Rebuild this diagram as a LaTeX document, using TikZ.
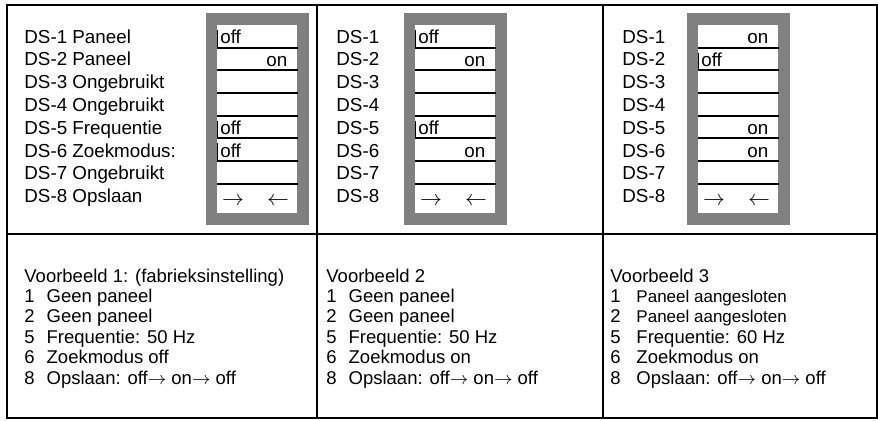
\documentclass[tikz,border=0pt]{standalone}
\usepackage{fontspec}
\setmainfont{Liberation Sans}
\usepackage{tikz}
\usetikzlibrary{calc, positioning}

\definecolor{switchgray}{HTML}{808080}

\begin{document}
\begin{tikzpicture}[
        x=0.5pt, y=-0.5pt,
        tableline/.style={line width=1pt},
        rowline/.style={line width=1pt},
        offbar/.style={line width=0.5pt},
        switchframe/.style={fill=switchgray, minimum width=51.5pt, minimum height=106pt, inner sep=0pt, anchor=north west},
        switchbox/.style={fill=white, minimum width=40pt, minimum height=94pt, inner sep=0pt, anchor=north west},
        dslist/.style={anchor=base west, inner sep=0pt, font=\fontsize{9.4}{11.4}\selectfont},
        examplelist/.style={anchor=base west, inner sep=0pt, font=\fontsize{9.25}{10.2}\selectfont},
        offstate/.style={anchor=base west, inner sep=0pt, font=\fontsize{9.4}{11.4}\selectfont},
        onstate/.style={anchor=base east, inner sep=0pt, font=\fontsize{9.4}{11.4}\selectfont},
        savearrow/.style={inner sep=0pt, font=\fontsize{11}{13}\selectfont}
    ]
    \useasboundingbox (0, 0) rectangle (878, 420);

    % Table
    \node [draw, tableline, rectangle, minimum width=435pt, minimum height=206.5pt, inner sep=0pt, anchor=north west] (table) at (6, 4) {};
    \draw[tableline] ($(table.north west) + (311, 0)$) -- ($(table.south west) + (311, 0)$);
    \draw[tableline] ($(table.north west) + (597, 0)$) -- ($(table.south west) + (597, 0)$);
    \draw[tableline] ($(table.north west) + (0, 230)$) -- ($(table.north east) + (0, 230)$);

    % Example 1: switches
    \node [switchframe] (frame1) at (206, 13) {};
    \node [switchbox] (sw1) at ($(frame1.north west) + (11, 12)$) {};
    \draw[rowline] ($(sw1.north west) + (0, 22.67)$)  -- ($(sw1.north east) + (0, 22.67)$);
    \draw[rowline] ($(sw1.north west) + (0, 45.33)$)  -- ($(sw1.north east) + (0, 45.33)$);
    \draw[rowline] ($(sw1.north west) + (0, 68)$)     -- ($(sw1.north east) + (0, 68)$);
    \draw[rowline] ($(sw1.north west) + (0, 90.67)$)  -- ($(sw1.north east) + (0, 90.67)$);
    \draw[rowline] ($(sw1.north west) + (0, 113.33)$) -- ($(sw1.north east) + (0, 113.33)$);
    \draw[rowline] ($(sw1.north west) + (0, 136)$)    -- ($(sw1.north east) + (0, 136)$);
    \draw[rowline] ($(sw1.north west) + (0, 158.67)$) -- ($(sw1.north east) + (0, 158.67)$);

    \node [offstate] (p1s1) at ($(sw1.north west) + (3, 18.67)$) {off};
    \draw[offbar] ($(sw1.north west) + (0.5, 5)$) -- ($(sw1.north west) + (0.5, 22.67)$);
    \node [onstate] (p1s2) at ($(sw1.north east) + (-10, 41.33)$) {on};
    \node [offstate] (p1s5) at ($(sw1.north west) + (3, 109.33)$) {off};
    \draw[offbar] ($(sw1.north west) + (0.5, 95.67)$) -- ($(sw1.north west) + (0.5, 113.33)$);
    \node [offstate] (p1s6) at ($(sw1.north west) + (3, 132)$) {off};
    \draw[offbar] ($(sw1.north west) + (0.5, 118.33)$) -- ($(sw1.north west) + (0.5, 136)$);
    \node [savearrow] (p1save1) at ($(sw1.north west) + (16, 176)$) {$\rightarrow$};
    \node [savearrow] (p1save2) at ($(sw1.north west) + (61, 176)$) {$\leftarrow$};

    \node [dslist] (labels1) at (24, 43) {\begin{tabular}[t]{@{}l@{}}
        DS-1 Paneel\\ DS-2 Paneel\\ DS-3 Ongebruikt\\ DS-4 Ongebruikt\\
        DS-5 Frequentie\\ DS-6 Zoekmodus:\\ DS-7 Ongebruikt\\ DS-8 Opslaan
    \end{tabular}};

    % Example 2: switches
    \node [switchframe] (frame2) at (404, 13) {};
    \node [switchbox] (sw2) at ($(frame2.north west) + (11, 12)$) {};
    \draw[rowline] ($(sw2.north west) + (0, 22.67)$)  -- ($(sw2.north east) + (0, 22.67)$);
    \draw[rowline] ($(sw2.north west) + (0, 45.33)$)  -- ($(sw2.north east) + (0, 45.33)$);
    \draw[rowline] ($(sw2.north west) + (0, 68)$)     -- ($(sw2.north east) + (0, 68)$);
    \draw[rowline] ($(sw2.north west) + (0, 90.67)$)  -- ($(sw2.north east) + (0, 90.67)$);
    \draw[rowline] ($(sw2.north west) + (0, 113.33)$) -- ($(sw2.north east) + (0, 113.33)$);
    \draw[rowline] ($(sw2.north west) + (0, 136)$)    -- ($(sw2.north east) + (0, 136)$);
    \draw[rowline] ($(sw2.north west) + (0, 158.67)$) -- ($(sw2.north east) + (0, 158.67)$);

    \node [offstate] (p2s1) at ($(sw2.north west) + (3, 18.67)$) {off};
    \draw[offbar] ($(sw2.north west) + (0.5, 5)$) -- ($(sw2.north west) + (0.5, 22.67)$);
    \node [onstate] (p2s2) at ($(sw2.north east) + (-10, 41.33)$) {on};
    \node [offstate] (p2s5) at ($(sw2.north west) + (3, 109.33)$) {off};
    \draw[offbar] ($(sw2.north west) + (0.5, 95.67)$) -- ($(sw2.north west) + (0.5, 113.33)$);
    \node [onstate] (p2s6) at ($(sw2.north east) + (-10, 132)$) {on};
    \node [savearrow] (p2save1) at ($(sw2.north west) + (16, 176)$) {$\rightarrow$};
    \node [savearrow] (p2save2) at ($(sw2.north west) + (61, 176)$) {$\leftarrow$};

    \node [dslist] (labels2) at (336, 43) {\begin{tabular}[t]{@{}l@{}}
        DS-1\\ DS-2\\ DS-3\\ DS-4\\ DS-5\\ DS-6\\ DS-7\\ DS-8
    \end{tabular}};

    % Example 3: switches
    \node [switchframe] (frame3) at (687, 13) {};
    \node [switchbox] (sw3) at ($(frame3.north west) + (11, 12)$) {};
    \draw[rowline] ($(sw3.north west) + (0, 22.67)$)  -- ($(sw3.north east) + (0, 22.67)$);
    \draw[rowline] ($(sw3.north west) + (0, 45.33)$)  -- ($(sw3.north east) + (0, 45.33)$);
    \draw[rowline] ($(sw3.north west) + (0, 68)$)     -- ($(sw3.north east) + (0, 68)$);
    \draw[rowline] ($(sw3.north west) + (0, 90.67)$)  -- ($(sw3.north east) + (0, 90.67)$);
    \draw[rowline] ($(sw3.north west) + (0, 113.33)$) -- ($(sw3.north east) + (0, 113.33)$);
    \draw[rowline] ($(sw3.north west) + (0, 136)$)    -- ($(sw3.north east) + (0, 136)$);
    \draw[rowline] ($(sw3.north west) + (0, 158.67)$) -- ($(sw3.north east) + (0, 158.67)$);

    \node [onstate] (p3s1) at ($(sw3.north east) + (-10, 18.67)$) {on};
    \node [offstate] (p3s2) at ($(sw3.north west) + (3, 41.33)$) {off};
    \draw[offbar] ($(sw3.north west) + (0.5, 27.67)$) -- ($(sw3.north west) + (0.5, 45.33)$);
    \node [onstate] (p3s5) at ($(sw3.north east) + (-10, 109.33)$) {on};
    \node [onstate] (p3s6) at ($(sw3.north east) + (-10, 132)$) {on};
    \node [savearrow] (p3save1) at ($(sw3.north west) + (16, 176)$) {$\rightarrow$};
    \node [savearrow] (p3save2) at ($(sw3.north west) + (61, 176)$) {$\leftarrow$};

    \node [dslist] (labels3) at (622, 43) {\begin{tabular}[t]{@{}l@{}}
        DS-1\\ DS-2\\ DS-3\\ DS-4\\ DS-5\\ DS-6\\ DS-7\\ DS-8
    \end{tabular}};

    % Example descriptions
    \node [examplelist] (text1) at (24, 282) {\begin{tabular}[t]{@{}l@{\hspace{6pt}}l@{}}
        \multicolumn{2}{@{}l@{}}{Voorbeeld 1: (fabrieksinstelling)}\\
        1 & Geen paneel\\
        2 & Geen paneel\\
        5 & Frequentie: 50 Hz\\
        6 & Zoekmodus off\\
        8 & Opslaan: off$\rightarrow$ on$\rightarrow$ off
    \end{tabular}};
    \node [examplelist] (text2) at (326, 282) {\begin{tabular}[t]{@{}l@{\hspace{6pt}}l@{}}
        \multicolumn{2}{@{}l@{}}{Voorbeeld 2}\\
        1 & Geen paneel\\
        2 & Geen paneel\\
        5 & Frequentie: 50 Hz\\
        6 & Zoekmodus on\\
        8 & Opslaan: off$\rightarrow$ on$\rightarrow$ off
    \end{tabular}};
    \node [examplelist] (text3) at (610, 282) {\begin{tabular}[t]{@{}l@{\hspace{7.9pt}}l@{}}
        \multicolumn{2}{@{}l@{}}{Voorbeeld 3}\\
        1 & {\fontsize{8.5}{10.2}\selectfont Paneel aangesloten}\\
        2 & {\fontsize{8.5}{10.2}\selectfont Paneel aangesloten}\\
        5 & Frequentie: 60 Hz\\
        6 & Zoekmodus on\\
        8 & Opslaan: off$\rightarrow$ on$\rightarrow$ off
    \end{tabular}};
\end{tikzpicture}
\end{document}
